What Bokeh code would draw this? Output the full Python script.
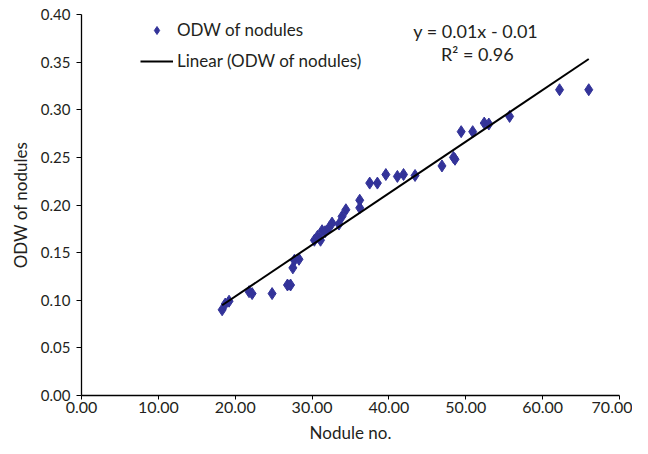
import numpy as np
from bokeh.plotting import figure
from bokeh.models import ColumnDataSource, Legend, LegendItem, Label, Range1d, FixedTicker, CustomJSTickFormatter
from bokeh.embed import file_html
from bokeh.resources import INLINE

# Data
nodule_no = [18.3, 18.7, 19.2, 21.8, 22.2, 24.8, 26.8, 27.2, 27.5, 27.7, 28.3,
             30.3, 30.7, 31.1, 31.3, 31.7, 32.2, 32.6, 33.5, 33.9, 34.4,
             36.2, 36.2, 37.5, 38.5, 39.6, 41.1, 41.9, 43.4, 46.9, 48.4,
             48.6, 49.4, 50.9, 52.4, 53.0, 55.7, 62.2, 66.0]
odw = [0.090, 0.096, 0.099, 0.109, 0.107, 0.107, 0.116, 0.116, 0.134, 0.142, 0.143,
       0.163, 0.167, 0.163, 0.173, 0.172, 0.176, 0.181, 0.180, 0.188, 0.195,
       0.197, 0.205, 0.223, 0.223, 0.232, 0.230, 0.232, 0.231, 0.241, 0.250,
       0.248, 0.277, 0.277, 0.286, 0.285, 0.293, 0.321, 0.321]
x_ticks = [0, 10, 20, 30, 40, 50, 60, 70]
y_ticks = [0.0, 0.05, 0.10, 0.15, 0.20, 0.25, 0.30, 0.35, 0.40]
equation = "y = 0.01x - 0.01"
r2_text = "R\u00b2 = 0.96"

FONT = "Lato"
TXT = "#231f20"

slope, intercept = np.polyfit(nodule_no, odw, 1)
tx = [min(nodule_no), max(nodule_no)]
ty = [slope * v + intercept for v in tx]

p = figure(width=632, height=446, output_backend="svg", toolbar_location=None,
           x_range=Range1d(0, 70), y_range=Range1d(0, 0.40),
           min_border_left=81, min_border_right=13, min_border_top=14, min_border_bottom=51)
p.outline_line_color = None
p.grid.visible = False

src = ColumnDataSource(dict(x=nodule_no, y=odw))
pts = p.scatter("x", "y", source=src, marker="diamond", size=12,
                fill_color="#333399", line_color="#333399")
line = p.line(tx, ty, line_color="black", line_width=2)

for ax in (p.xaxis[0], p.yaxis[0]):
    ax.axis_line_color = "black"
    ax.axis_line_width = 1.3
    ax.major_tick_line_color = "black"
    ax.minor_tick_line_color = None
    ax.major_label_text_font = FONT
    ax.major_label_text_color = TXT
    ax.axis_label_text_font = FONT
    ax.axis_label_text_font_size = "17px"
    ax.axis_label_text_font_style = "normal"
    ax.axis_label_text_color = TXT

p.xaxis.major_label_text_font_size = "16px"
p.yaxis.major_label_text_font_size = "15px"
p.xaxis.ticker = FixedTicker(ticks=x_ticks)
p.yaxis.ticker = FixedTicker(ticks=y_ticks)
p.xaxis.formatter = CustomJSTickFormatter(code="return tick.toFixed(2);")
p.yaxis.formatter = CustomJSTickFormatter(code="return tick.toFixed(2);")
p.xaxis.major_tick_in = 0
p.xaxis.major_tick_out = 4
p.xaxis.major_label_standoff = 2
p.yaxis.major_tick_in = 0
p.yaxis.major_tick_out = 5
p.yaxis.major_label_standoff = 6
p.xaxis.axis_label = "Nodule no."
p.yaxis.axis_label = "ODW of nodules"
p.xaxis.axis_label_standoff = 6
p.yaxis.axis_label_standoff = 7

legend = Legend(items=[LegendItem(label="ODW of nodules", renderers=[pts]),
                       LegendItem(label="Linear (ODW of nodules)", renderers=[line])],
                location=(59, 324), border_line_color=None, background_fill_alpha=0,
                label_text_font=FONT, label_text_font_size="17px", label_text_color=TXT,
                glyph_width=33, label_standoff=4, spacing=10, padding=4)
p.add_layout(legend, "center")

p.add_layout(Label(x=51.3, y=0.383, text=equation, text_align="center", text_baseline="middle",
                   text_font=FONT, text_font_size="18px", text_color=TXT))
p.add_layout(Label(x=51.5, y=0.359, text=r2_text, text_align="center", text_baseline="middle",
                   text_font=FONT, text_font_size="18px", text_color=TXT))

open("out.html", "w").write(file_html(p, INLINE))
